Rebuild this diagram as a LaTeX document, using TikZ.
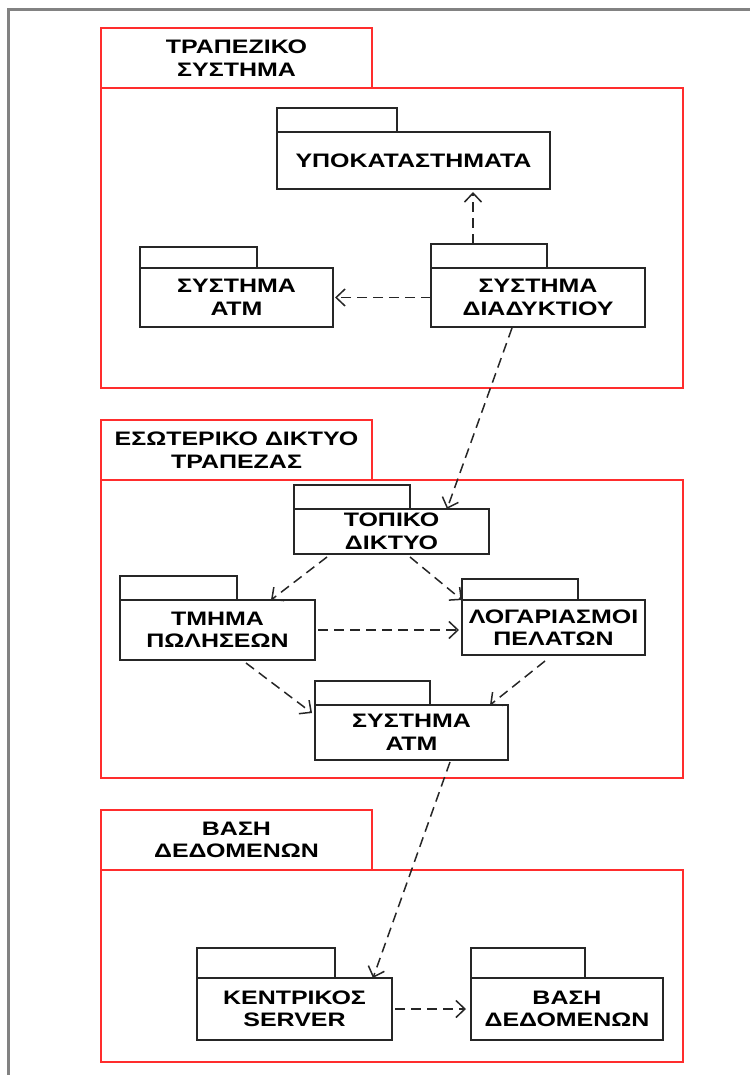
\documentclass[tikz,border=0pt]{standalone}
\usepackage{fontspec}
\setmainfont{Liberation Sans}[FakeStretch=1.28]
\usetikzlibrary{arrows.meta}
\definecolor{pkgred}{RGB}{255,45,45}
\definecolor{framegray}{RGB}{130,130,130}
\begin{document}
\begin{tikzpicture}[x=1pt,y=-1pt,
  txt/.style={font=\bfseries\fontsize{19.5}{22.5}\selectfont, align=center},
  redbox/.style={draw=pkgred, line width=2pt, inner sep=0pt, outer sep=0pt, anchor=north west},
  pkgbody/.style={draw=black!85, line width=1.8pt, inner sep=0pt, outer sep=0pt, anchor=north west, txt},
  pkgtab/.style={draw=black!85, line width=1.8pt, inner sep=0pt, outer sep=0pt, anchor=south west, minimum height=24pt},
  dep/.style={draw=black!85, line width=1.5pt, dash pattern=on 10pt off 6pt,
    -{Straight Barb[length=9pt,width=17pt,line width=1.5pt]}}
]
\useasboundingbox (0,0) rectangle (750,1075);

% page frame
\coordinate (fb) at (8,1075);
\coordinate (fc) at (8,10);
\coordinate (fr) at (750,10);
\draw[framegray, line width=3pt] (fb) -- (fc) -- (fr);

% ---------- outer package: banking system ----------
\node[redbox, minimum width=582pt, minimum height=300pt] (bank) at (101,88) {};
\node[redbox, txt, minimum width=271pt, minimum height=60pt, anchor=south west] (banktab) at (bank.north west) {ΤΡΑΠΕΖΙΚΟ\\ΣΥΣΤΗΜΑ};

% ---------- outer package: internal network ----------
\node[redbox, minimum width=582pt, minimum height=298pt] (net) at (101,480) {};
\node[redbox, txt, minimum width=271pt, minimum height=60pt, anchor=south west] (nettab) at (net.north west) {ΕΣΩΤΕΡΙΚΟ ΔΙΚΤΥΟ\\ΤΡΑΠΕΖΑΣ};

% ---------- outer package: database ----------
\node[redbox, minimum width=582pt, minimum height=192pt] (db) at (101,870) {};
\node[redbox, txt, minimum width=271pt, minimum height=60pt, anchor=south west] (dbtab) at (db.north west) {ΒΑΣΗ\\ΔΕΔΟΜΕΝΩΝ};

% ---------- inner packages ----------
\node[pkgbody, minimum width=273pt, minimum height=57pt] (ypo) at (277,132) {ΥΠΟΚΑΤΑΣΤΗΜΑΤΑ};
\node[pkgtab, minimum width=120pt] (ypotab) at (ypo.north west) {};

\node[pkgbody, minimum width=193pt, minimum height=59pt] (atma) at (140,268) {ΣΥΣΤΗΜΑ\\ΑΤΜ};
\node[pkgtab, minimum width=117pt, minimum height=21pt] (atmatab) at (atma.north west) {};

\node[pkgbody, minimum width=214pt, minimum height=59pt] (diad) at (431,268) {ΣΥΣΤΗΜΑ\\ΔΙΑΔΥΚΤΙΟΥ};
\node[pkgtab, minimum width=116pt] (diadtab) at (diad.north west) {};

\node[pkgbody, minimum width=195pt, minimum height=45pt] (topiko) at (294,509) {ΤΟΠΙΚΟ\\ΔΙΚΤΥΟ};
\node[pkgtab, minimum width=116pt] (topikotab) at (topiko.north west) {};

\node[pkgbody, minimum width=195pt, minimum height=60pt] (tmima) at (120,600) {ΤΜΗΜΑ\\ΠΩΛΗΣΕΩΝ};
\node[pkgtab, minimum width=117pt] (tmimatab) at (tmima.north west) {};

\node[pkgbody, minimum width=183pt, minimum height=55pt] (log) at (462,600) {ΛΟΓΑΡΙΑΣΜΟΙ\\ΠΕΛΑΤΩΝ};
\node[pkgtab, minimum width=116pt, minimum height=21pt] (logtab) at (log.north west) {};

\node[pkgbody, minimum width=193pt, minimum height=55pt] (atmb) at (315,705) {ΣΥΣΤΗΜΑ\\ΑΤΜ};
\node[pkgtab, minimum width=115pt] (atmbtab) at (atmb.north west) {};

\node[pkgbody, minimum width=195pt, minimum height=62pt] (kent) at (197,978) {ΚΕΝΤΡΙΚΟΣ\\SERVER};
\node[pkgtab, minimum width=138pt, minimum height=30pt] (kenttab) at (kent.north west) {};

\node[pkgbody, minimum width=192pt, minimum height=62pt] (vasi) at (471,978) {ΒΑΣΗ\\ΔΕΔΟΜΕΝΩΝ};
\node[pkgtab, minimum width=114pt, minimum height=30pt] (vasitab) at (vasi.north west) {};

% ---------- dependencies ----------
\draw[dep] ([xshift=42pt]diadtab.north west) -- ([xshift=196pt,yshift=-3pt]ypo.south west);
\draw[dep] (diad.west) -- ([xshift=2pt]atma.east);
\draw[dep] ([xshift=81pt,yshift=-1pt]diad.south west) -- ([xshift=153pt]topiko.north west);
\draw[dep] ([xshift=33pt,yshift=-3pt]topiko.south west) -- ([xshift=151pt]tmima.north west);
\draw[dep] ([xshift=116pt,yshift=-3pt]topiko.south west) -- (log.north west);
\draw[dep] ([xshift=3pt]tmima.east) -- ([xshift=-3pt]tmima.east -| log.west);
\draw[dep] ([xshift=126pt,yshift=-3pt]tmima.south west) -- ([xshift=-3pt,yshift=-8pt]atmb.north west);
\draw[dep] ([xshift=83pt,yshift=-6pt]log.south west) -- ([xshift=175pt]atmb.north west);
\draw[dep] ([xshift=135pt,yshift=-2pt]atmb.south west) -- ([xshift=176pt]kent.north west);
\draw[dep] ([xshift=3pt]kent.east) -- ([xshift=-5pt]kent.east -| vasi.west);
\end{tikzpicture}
\end{document}
